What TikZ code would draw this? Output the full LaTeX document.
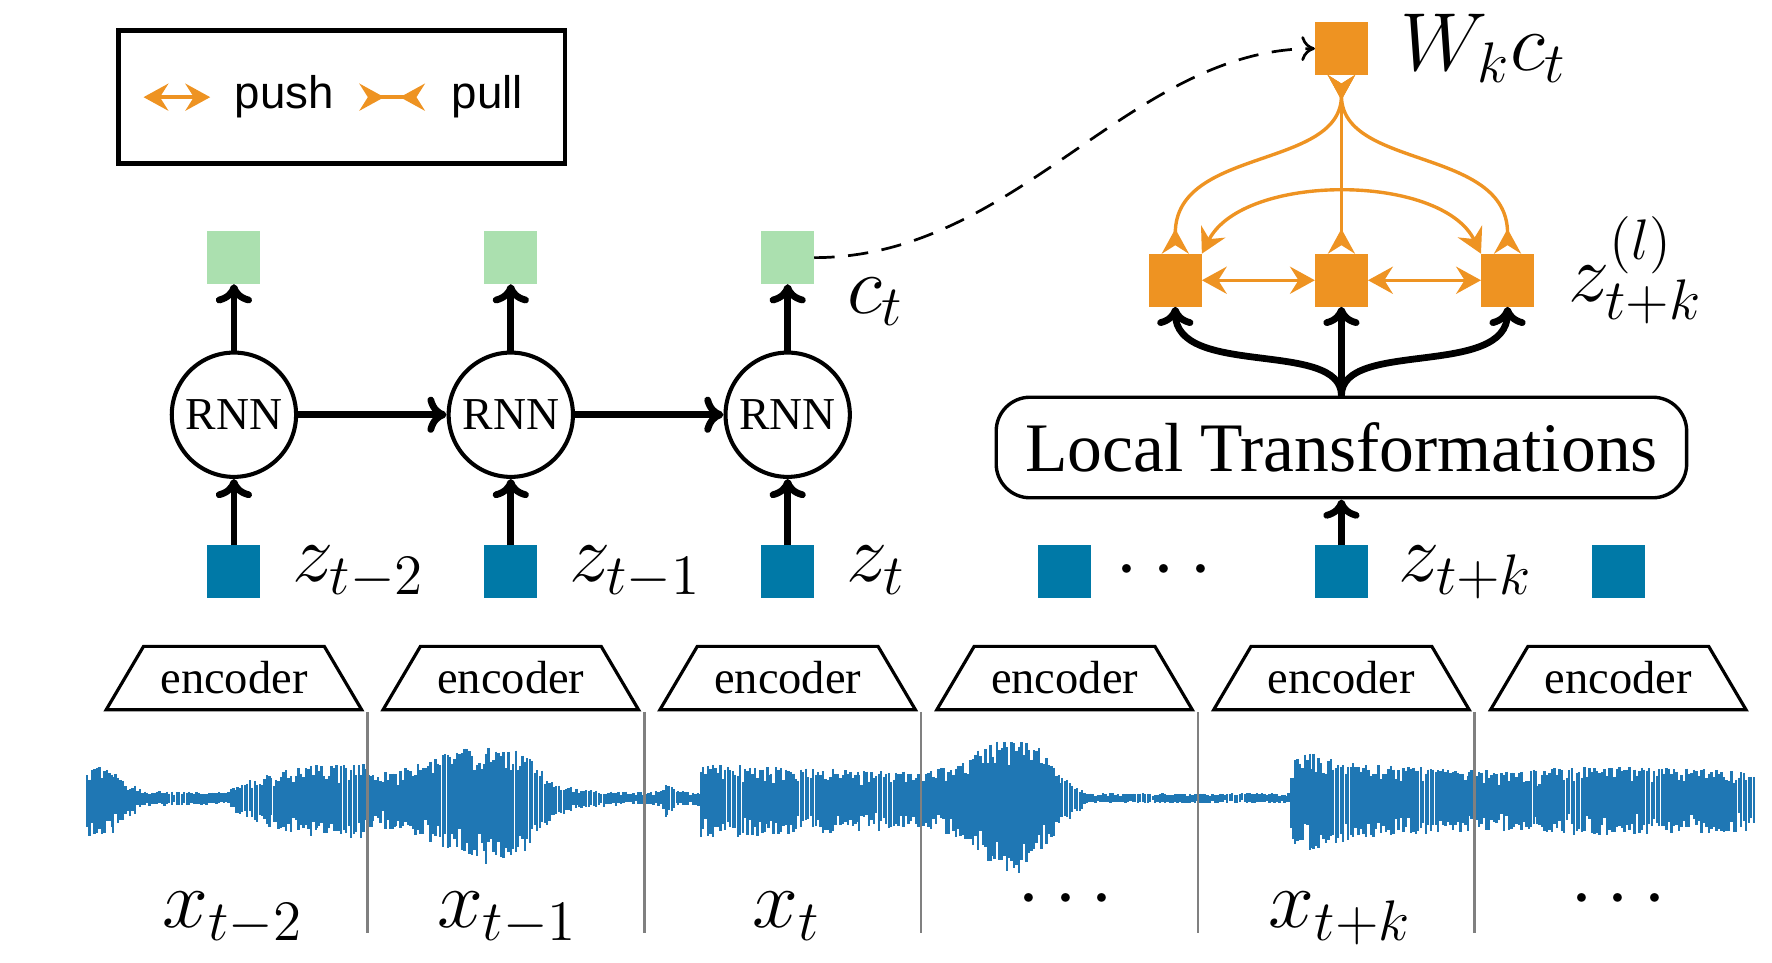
\documentclass[tikz,border=0pt]{standalone}
\usepackage[no-math]{fontspec}
\setmainfont{Liberation Serif}
\newfontfamily\legendfont{Liberation Sans}
\usetikzlibrary{arrows.meta,calc}
\definecolor{zblue}{RGB}{0,121,167}
\definecolor{cgreen}{RGB}{171,224,175}
\definecolor{porange}{RGB}{238,147,34}
\definecolor{wavecol}{RGB}{31,119,180}
\definecolor{sepgray}{RGB}{128,128,128}
\begin{document}
\begin{tikzpicture}[x=0.1mm,y=-0.1mm,
  sq/.style={minimum width=4.7mm,minimum height=4.7mm,inner sep=0pt,outer sep=0pt},
  zsq/.style={sq,fill=zblue},
  csq/.style={sq,fill=cgreen},
  osq/.style={sq,fill=porange},
  rnn/.style={circle,draw,line width=0.36mm,minimum size=11mm,inner sep=0pt,font=\fontsize{11.5}{13}\selectfont},
  blk/.style={line width=0.6mm,-{Computer Modern Rightarrow[length=1.7mm,width=3.2mm]}},
  lbl/.style={inner sep=0pt,anchor=base west,font=\fontsize{21}{25}\selectfont},
  clbl/.style={inner sep=0pt,anchor=base,font=\fontsize{21}{25}\selectfont},
  enctext/.style={inner sep=0pt,font=\fontsize{11.7}{14}\selectfont},
  encline/.style={line width=0.28mm,line join=miter},
  legtext/.style={inner sep=0pt,anchor=base west,font=\legendfont\fontsize{11.5}{13}\selectfont},
  pushar/.style={porange,line width=0.3mm,{Stealth[length=2.2mm,width=2.4mm,inset=0.75mm]}-{Stealth[length=2.2mm,width=2.4mm,inset=0.75mm]}},
  pullar/.style={porange,line width=0.3mm,{Stealth[length=2.2mm,width=2.4mm,inset=0.75mm,reversed]}-{Stealth[length=2.2mm,width=2.4mm,inset=0.75mm,reversed]}},
  dashar/.style={line width=0.24mm,dash pattern=on 1.8mm off 1.2mm,-{Computer Modern Rightarrow[length=1.2mm,width=2.2mm]}},
  sepline/.style={sepgray,line width=0.25mm},
  wavebar/.style={wavecol,line width=0.21mm},
]
\useasboundingbox (0,0) rectangle (1568,852);

% legend
\node[draw,line width=0.42mm,minimum width=39.5mm,minimum height=11.8mm,inner sep=0pt] (legend) at (302.5,86) {};
\coordinate (pa) at (127,86); \coordinate (pb) at (186,86);
\draw[pushar] (pa) -- (pb);
\node[legtext] (pushtxt) at (207,96) {push};
\coordinate (qa) at (318,86); \coordinate (qb) at (376,86);
\draw[pullar] (qa) -- (qb);
\node[legtext] (pulltxt) at (399,96) {pull};

% RNN chain
\foreach \x/\n in {207/1,452/2,697/3} {
  \node[csq] (c\n) at (\x,228) {};
  \node[rnn] (r\n) at (\x,367) {RNN};
  \node[zsq] (z\n) at (\x,506) {};
  \draw[blk] (z\n) -- (r\n);
  \draw[blk] (r\n) -- (c\n);
}
\draw[blk] (r1) -- (r2);
\draw[blk] (r2) -- (r3);
\node[zsq] (z4) at (942,506) {};
\node[zsq] (z5) at (1187,506) {};
\node[zsq] (z6) at (1432,506) {};

% z labels
\node[lbl] (lz1) at (258,515) {$z_{t-2}$};
\node[lbl] (lz2) at (503,515) {$z_{t-1}$};
\node[lbl] (lz3) at (748,515) {$z_{t}$};
\node[clbl] (lzd) at (1030,522) {$\cdots$};
\node[lbl] (lz5) at (1237,515) {$z_{t+k}$};
\node[lbl] (lc) at (749,277) {$c_t$};

% right part
\node[osq] (w) at (1187,43) {};
\node[lbl] (lw) at (1239,62) {$W_k c_t$};
\node[osq] (o1) at (1040,248) {};
\node[osq] (o2) at (1187,248) {};
\node[osq] (o3) at (1334,248) {};
\node[lbl] (lo) at (1387,267) {$z^{(l)}_{t+k}$};
\node[draw,rounded corners=3mm,line width=0.3mm,minimum width=61.1mm,minimum height=8.9mm,inner sep=0pt,font=\fontsize{17.5}{20}\selectfont] (lt) at (1187,396) {Local Transformations};

\draw[pushar] (o1) -- (o2);
\draw[pushar] (o2) -- (o3);
\draw[pushar] (o1.north east) .. controls (1100,153) and (1275,153) .. (o3.north west);
\draw[pullar] (w.south) .. controls (1187,150) and (1040,130) .. (o1.north);
\draw[pullar] (w.south) -- (o2.north);
\draw[pullar] (w.south) .. controls (1187,150) and (1334,130) .. (o3.north);

\draw[dashar] (c3.east) .. controls (900,228) and (1000,43) .. (w.west);

\draw[blk] (z5) -- (lt);
\draw[blk] (lt.north) .. controls (1187,300) and (1040,335) .. (o1.south);
\draw[blk] (lt.north) -- (o2.south);
\draw[blk] (lt.north) .. controls (1187,300) and (1334,335) .. (o3.south);

% encoders
\foreach \x/\n in {207/1,452/2,697/3,942/4,1187/5,1432/6} {
  \draw[encline] (\x-80,572) -- (\x+80,572) -- (\x+113,628) -- (\x-113,628) -- cycle;
  \node[enctext] (enc\n) at (\x,600) {encoder};
}

% waveform
\pgfmathsetseed{42}
\foreach \xa/\aa/\xb/\ab in {77/29/100/27, 100/27/115/15, 115/15/130/6, 130/6/200/5, 200/5/210/12, 210/12/240/22, 240/22/280/29, 280/29/322/30, 322/30/330/22, 330/22/350/24, 350/24/400/40, 400/40/430/50, 430/50/460/44, 460/44/490/16, 490/16/510/8, 510/8/565/5, 565/5/585/6, 585/6/590/14, 590/14/600/6, 600/6/618/6, 618/6/622/30, 622/30/680/28, 680/28/760/25, 760/25/815/23, 815/23/850/30, 850/30/880/52, 880/52/895/58, 895/58/915/50, 915/50/940/20, 940/20/965/4, 965/4/1140/4, 1140/4/1146/40, 1146/40/1160/40, 1160/40/1200/30, 1200/30/1300/25, 1300/25/1360/25, 1360/25/1400/28, 1400/28/1553/25} {
  \pgfmathtruncatemacro\nn{(\xb-\xa)/2.2}
  \foreach \k in {0,...,\nn} {
    \pgfmathsetmacro\xx{\xa+\k*2.2}
    \pgfmathsetmacro\am{\aa+(\ab-\aa)*\k/max(\nn,1)}
    \pgfmathsetmacro\up{706-\am*1.0*(0.4+0.6*sqrt(rnd))}
    \pgfmathsetmacro\dn{706+\am*1.2*(0.4+0.6*sqrt(rnd))}
    \draw[wavebar] (\xx,\up) -- (\xx,\dn);
  }
}

% separators
\foreach \x in {325,570,815,1060,1305} {
  \draw[sepline] (\x,630) -- (\x,826);
}

% x labels
\node[clbl] (lx1) at (206,821) {$x_{t-2}$};
\node[clbl] (lx2) at (449,821) {$x_{t-1}$};
\node[clbl] (lx3) at (696,821) {$x_{t}$};
\node[clbl] (lx4) at (943,813) {$\cdots$};
\node[clbl] (lx5) at (1186,821) {$x_{t+k}$};
\node[clbl] (lx6) at (1432,813) {$\cdots$};
\end{tikzpicture}
\end{document}
